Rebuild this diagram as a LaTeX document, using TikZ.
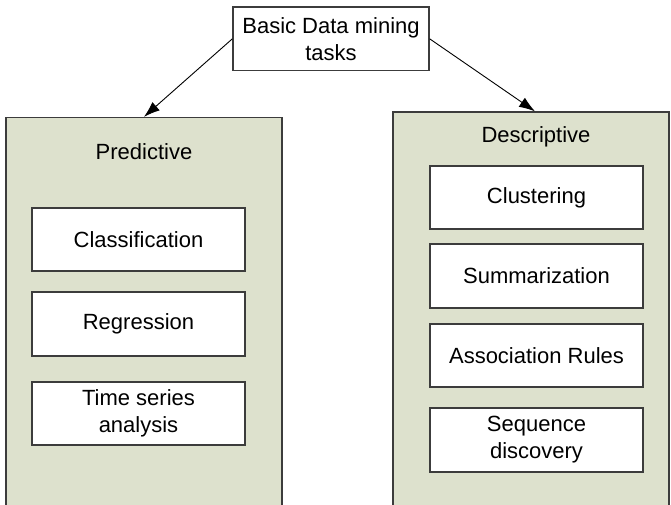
\documentclass[tikz,border=0pt]{standalone}
\usepackage{fontspec}
\setmainfont{Liberation Sans}
\usetikzlibrary{arrows.meta}
\definecolor{panelfill}{RGB}{221,225,205}
\definecolor{edge}{RGB}{60,60,60}
\begin{document}
\begin{tikzpicture}[x=1pt,y=-1pt,
  every node/.style={font=\fontsize{22}{27}\selectfont, align=center, inner sep=0pt},
  panel/.style={draw=edge, line width=1.3pt, fill=panelfill},
  task/.style={draw=edge, line width=1.3pt, fill=white, minimum width=213pt},
  conn/.style={draw=black, line width=0.9pt, -{Latex[length=16pt,width=11pt]}}]
\useasboundingbox (0,0) rectangle (671,504);
\fill[white] (0,0) rectangle (671,504);
\clip (0,0) rectangle (671,504);

\node[draw=edge, line width=1.3pt, fill=white, minimum width=196pt, minimum height=63.5pt] (top) at (331,38.8) {Basic Data mining\\tasks};

\node[panel, minimum width=276pt, minimum height=402.5pt] (pred) at (144,318.75) {};
\node[panel, minimum width=276pt, minimum height=408pt] (desc) at (531,316) {};

\node (predlbl) at (144,152) {Predictive};
\node (desclbl) at (536,137) {Descriptive};

\node[task, minimum height=63pt] (cls) at (138.5,239.5) {Classification};
\node[task, minimum height=64pt] (reg) at (138.5,324) {Regression};
\node[task, minimum height=63pt] (ts) at (138.5,413.5) {Time series\\analysis};

\node[task, minimum height=63pt] (clu) at (536.5,197.5) {Clustering};
\node[task, minimum height=64pt] (sum) at (536.5,276) {Summarization};
\node[task, minimum height=63pt] (ass) at (536.5,355.5) {Association Rules};
\node[task, minimum height=64pt] (seq) at (536.5,440) {Sequence\\discovery};

\draw[conn] (top.west) -- (pred.north);
\draw[conn] (top.east) -- ([xshift=4pt]desc.north);
\end{tikzpicture}
\end{document}
